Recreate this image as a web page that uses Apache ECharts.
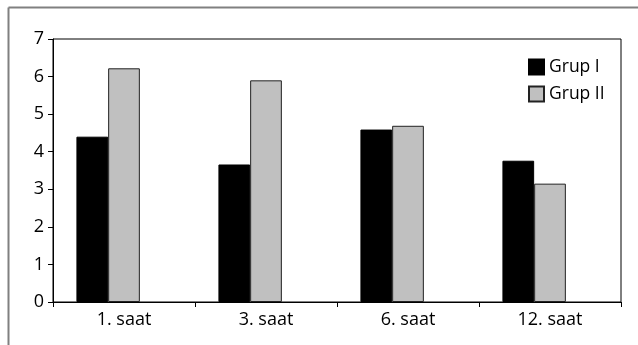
<!DOCTYPE html>
<html>
<head>
<meta charset="utf-8">
<script src="https://cdn.jsdelivr.net/npm/echarts@6/dist/echarts.min.js"></script>
<style>html,body{margin:0;padding:0;background:#fff;}#c{width:638px;height:345px;}</style>
</head>
<body>
<div id="c"></div>
<script>
var categories = ['1. saat', '3. saat', '6. saat', '12. saat'];
var grup1 = [4.40, 3.66, 4.59, 3.76];
var grup2 = [6.22, 5.90, 4.69, 3.15];
var emptySlot = [null, null, null, null];
var yTicks = [0, 1, 2, 3, 4, 5, 6, 7];

var font = 'Open Sans';
var chart = echarts.init(document.getElementById('c'), null, {renderer: 'canvas'});
chart.setOption({
  animation: false,
  backgroundColor: '#fff',
  graphic: [
    {type: 'line', shape: {x1: 8.5, y1: 7.5, x2: 638, y2: 7.5}, style: {stroke: '#808080', lineWidth: 2}},
    {type: 'line', shape: {x1: 8.5, y1: 7.5, x2: 8.5, y2: 345}, style: {stroke: '#808080', lineWidth: 2}}
  ],
  grid: {left: 53, top: 39, right: 17, bottom: 43, show: true, borderColor: '#000', borderWidth: 1, backgroundColor: '#fff'},
  legend: {
    orient: 'vertical', left: 523, top: 53, itemWidth: 15, itemHeight: 15, itemGap: 9, icon: 'rect',
    data: ['Grup I', 'Grup II'],
    textStyle: {fontFamily: font, fontSize: 17.5, color: '#000'}
  },
  xAxis: {
    type: 'category', data: categories,
    axisLine: {lineStyle: {color: '#000', width: 1}},
    axisTick: {show: true, length: 5, lineStyle: {color: '#000'}},
    axisLabel: {fontFamily: font, fontSize: 18, color: '#000', margin: 9},
    splitLine: {show: false}
  },
  yAxis: {
    type: 'value', min: yTicks[0], max: yTicks[yTicks.length - 1], interval: 1,
    axisLine: {show: true, lineStyle: {color: '#000', width: 1}},
    axisTick: {show: true, length: 5, lineStyle: {color: '#000'}},
    axisLabel: {fontFamily: font, fontSize: 18, color: '#000', margin: 9},
    splitLine: {show: false}
  },
  series: [
    {name: 'Grup I', type: 'bar', data: grup1, barGap: '0%', barCategoryGap: '33%',
     itemStyle: {color: '#000', borderColor: '#000', borderWidth: 1}},
    {name: 'Grup II', type: 'bar', data: grup2,
     itemStyle: {color: '#c0c0c0', borderColor: '#222', borderWidth: 1}},
    {name: 'pad', type: 'bar', data: emptySlot, itemStyle: {color: 'transparent'}}
  ]
});
</script>
</body>
</html>
